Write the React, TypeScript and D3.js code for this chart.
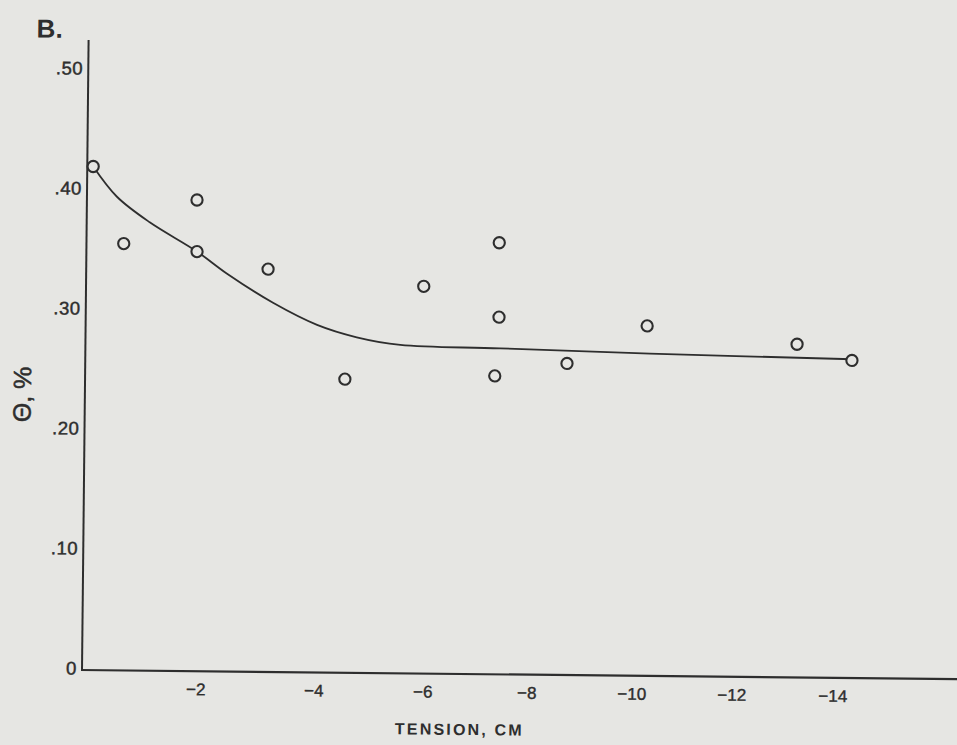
import React from "react";
import * as d3 from "d3";

// ---- data ----
const tensionCm = [-0.07, -0.63, -1.93, -1.94, -3.15, -4.51, -5.94, -7.38, -7.39, -7.32, -8.7, -10.23, -13.22, -14.31];
const thetaPct = [0.418, 0.354, 0.391, 0.348, 0.334, 0.243, 0.321, 0.358, 0.296, 0.247, 0.258, 0.29, 0.276, 0.263];

const fitTension = [-0.07, -0.5, -1.09, -1.94, -2.45, -3.24, -3.99, -4.72, -5.52, -7.42, -10.29, -14.31];
const fitTheta = [0.418, 0.393, 0.372, 0.348, 0.33, 0.306, 0.288, 0.278, 0.272, 0.27, 0.267, 0.264];

const xTickValues = [-2, -4, -6, -8, -10, -12, -14];
const xTickLabels = ["\u22122", "\u22124", "\u22126", "\u22128", "\u221210", "\u221212", "\u221214"];
const yTickValues = [0, 0.1, 0.2, 0.3, 0.4, 0.5];
const yTickLabels = ["0", ".10", ".20", ".30", ".40", ".50"];

const W = 957;
const H = 745;
const INK = "#2e2e2e";
const BG = "#e6e6e3";

export default function App() {
  // hand-spaced tick positions of the original drawing -> polylinear scale
  const x = d3
    .scaleLinear()
    .domain([0, -2, -4, -6, -8, -10, -12, -14])
    .range([84, 196, 314, 423, 527, 632, 732, 833]);
  const y = d3.scaleLinear().domain([0, 0.5]).range([668, 68]);

  const ox = 82;
  const oy = y(0) + 2;

  const line = d3
    .line<number>()
    .x((_, i) => x(fitTension[i]))
    .y((_, i) => y(fitTheta[i]))
    .curve(d3.curveCatmullRom.alpha(0.5));

  const font = "'Liberation Sans', Arial, Helvetica, sans-serif";

  return (
    <svg
      width={W}
      height={H}
      style={{ position: "absolute", left: 0, top: 0, display: "block" }}
    >
      <rect x={0} y={0} width={W} height={H} fill={BG} />
      <g transform={`rotate(0.6, ${ox}, ${oy})`} fontFamily={font} fill={INK}>
        {/* panel label */}
        <text x={30} y={38} fontSize={26} fontWeight="bold">
          B.
        </text>

        {/* axes */}
        <line x1={ox} y1={40} x2={ox} y2={oy} stroke={INK} strokeWidth={2} />
        <line x1={ox - 1} y1={oy} x2={x(-17.5)} y2={oy} stroke={INK} strokeWidth={2.2} />

        {/* y ticks */}
        {yTickValues.map((v, i) => (
          <text
            key={"y" + i}
            x={77}
            y={y(v)}
            dy="0.36em"
            textAnchor="end"
            fontSize={18.5}
            letterSpacing={0.6}
            stroke={INK}
            strokeWidth={0.45}
          >
            {yTickLabels[i]}
          </text>
        ))}

        {/* x ticks */}
        {xTickValues.map((v, i) => (
          <text
            key={"x" + i}
            x={x(v)}
            y={oy + 24}
            textAnchor="middle"
            fontSize={17}
            stroke={INK}
            strokeWidth={0.4}
          >
            {xTickLabels[i]}
          </text>
        ))}

        {/* axis titles */}
        <text
          x={460}
          y={731}
          textAnchor="middle"
          fontSize={16}
          fontWeight="bold"
          letterSpacing={2.2}
        >
          TENSION, CM
        </text>
        <text
          transform={`translate(28, 395) rotate(-90)`}
          textAnchor="middle"
          fontSize={25}
          stroke={INK}
          strokeWidth={0.5}
        >
          Θ, %
        </text>

        {/* fitted curve */}
        <path d={line(fitTension) || ""} fill="none" stroke={INK} strokeWidth={1.8} />

        {/* observations */}
        {tensionCm.map((t, i) => (
          <circle
            key={"p" + i}
            cx={x(t)}
            cy={y(thetaPct[i])}
            r={5.6}
            fill={BG}
            stroke={INK}
            strokeWidth={2.1}
          />
        ))}
      </g>
    </svg>
  );
}
